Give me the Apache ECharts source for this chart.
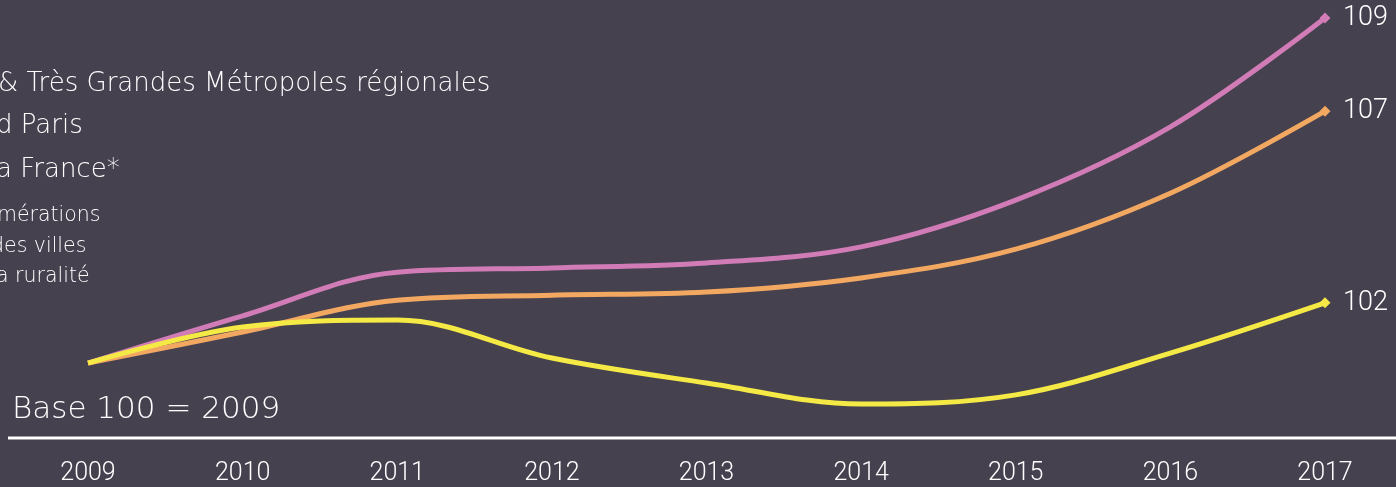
<!DOCTYPE html>
<html>
<head>
<meta charset="utf-8">
<script src="https://cdn.jsdelivr.net/npm/echarts@6/dist/echarts.min.js"></script>
<style>
html,body{margin:0;padding:0;background:#45414f;}
#c{width:1396px;height:487px;}
</style>
</head>
<body>
<div id="c"></div>
<script>
const years = ['2009','2010','2011','2012','2013','2014','2015','2016','2017'];
const pinkValues   = [100, 101.23, 102.37, 102.48, 102.61, 103.03, 104.25, 106.16, 109.0];
const orangeValues = [100, 100.81, 101.64, 101.77, 101.85, 102.22, 102.97, 104.43, 106.57];
const yellowValues = [100, 100.94, 101.12, 100.13, 99.48, 98.93, 99.17, 100.26, 101.57];
const legendLines = ['& Très Grandes Métropoles régionales', 'd Paris', 'a France*'];
const smallLines = ['mérations', 'des villes', 'a ruralité'];
const baseText = 'Base 100 = 2009';

const textFont = "'DejaVu Sans', sans-serif";
const numFont = "'Roboto', sans-serif";
const colors = ['#d17cb6', '#f3a862', '#f5e945'];

const chart = echarts.init(document.getElementById('c'));

function mk(name, data, color) {
  return {
    name: name,
    type: 'line',
    data: data,
    smooth: 0.35,
    symbol: function (v, p) { return p.dataIndex === data.length - 1 ? 'diamond' : 'none'; },
    symbolSize: 11,
    showSymbol: true,
    lineStyle: { color: color, width: 5 },
    itemStyle: { color: color },
    emphasis: { disabled: true },
    endLabel: {
      show: true,
      formatter: function (p) { return Math.round(p.value); },
      color: '#ffffff',
      fontFamily: numFont,
      fontWeight: 300,
      fontSize: 27,
      distance: 18
    },
    z: 3
  };
}

const graphics = [
  { type: 'line', shape: { x1: 8, y1: 438, x2: 1396, y2: 438 }, style: { stroke: '#ffffff', lineWidth: 3 } },
  { type: 'text', left: 12, top: 394, style: { text: baseText, fill: '#ffffff', font: '300 31px ' + textFont } }
];
const bigY = [84, 126, 170];
legendLines.forEach(function (t, i) {
  graphics.push({ type: 'text', x: i === 0 ? -2 : -4, y: bigY[i], style: { text: t, fill: '#ffffff', font: '300 26px ' + textFont, textVerticalAlign: 'middle' } });
});
const smallY = [216, 247, 277];
const smallX = [-3, -9, -4];
smallLines.forEach(function (t, i) {
  graphics.push({ type: 'text', x: smallX[i], y: smallY[i], style: { text: t, fill: '#ffffff', font: '300 20.5px ' + textFont, textVerticalAlign: 'middle' } });
});

chart.setOption({
  backgroundColor: '#45414f',
  animation: false,
  grid: { left: 88, right: 71, top: 18, bottom: 47.3, containLabel: false },
  xAxis: {
    type: 'category',
    data: years,
    boundaryGap: false,
    axisLine: { show: false },
    axisTick: { show: false },
    splitLine: { show: false },
    axisLabel: { color: '#ffffff', fontFamily: numFont, fontWeight: 300, fontSize: 25, margin: 22 }
  },
  yAxis: {
    type: 'value',
    min: 98,
    max: 109,
    show: false,
    splitLine: { show: false }
  },
  graphic: graphics,
  series: [
    mk('Métropoles', pinkValues, colors[0]),
    mk('Paris', orangeValues, colors[1]),
    mk('France', yellowValues, colors[2])
  ]
});
</script>
</body>
</html>
